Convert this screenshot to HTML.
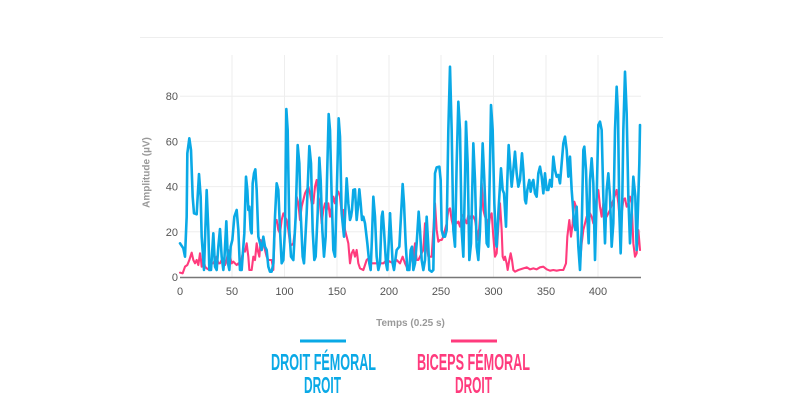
<!DOCTYPE html>
<html>
<head>
<meta charset="utf-8">
<style>
  html,body{margin:0;padding:0;background:#fff;}
  svg{display:block;}
</style>
</head>
<body>
<svg width="800" height="415" viewBox="0 0 800 415" xmlns="http://www.w3.org/2000/svg">
  <rect x="0" y="0" width="800" height="415" fill="#fff"/>
  <line x1="140" y1="37.5" x2="663" y2="37.5" stroke="#eeeeee" stroke-width="1"/>

  <g stroke="#eeeeee" stroke-width="1">
    <line x1="232" y1="55" x2="232" y2="277"/>
    <line x1="284.5" y1="55" x2="284.5" y2="277"/>
    <line x1="337" y1="55" x2="337" y2="277"/>
    <line x1="389" y1="55" x2="389" y2="277"/>
    <line x1="441" y1="55" x2="441" y2="277"/>
    <line x1="493.5" y1="55" x2="493.5" y2="277"/>
    <line x1="546" y1="55" x2="546" y2="277"/>
    <line x1="598" y1="55" x2="598" y2="277"/>
    <line x1="180" y1="231.8" x2="641" y2="231.8"/>
    <line x1="180" y1="186.6" x2="641" y2="186.6"/>
    <line x1="180" y1="141.4" x2="641" y2="141.4"/>
    <line x1="180" y1="96.2" x2="641" y2="96.2"/>
  </g>

  <g font-family="Liberation Sans, sans-serif" font-size="11" fill="#555" text-anchor="end">
    <text x="178" y="281">0</text>
    <text x="178" y="235.8">20</text>
    <text x="178" y="190.6">40</text>
    <text x="178" y="145.4">60</text>
    <text x="178" y="100.2">80</text>
  </g>
  <g font-family="Liberation Sans, sans-serif" font-size="11" fill="#555" text-anchor="middle">
    <text x="180" y="295">0</text>
    <text x="232" y="295">50</text>
    <text x="284.5" y="295">100</text>
    <text x="337" y="295">150</text>
    <text x="389" y="295">200</text>
    <text x="441" y="295">250</text>
    <text x="493.5" y="295">300</text>
    <text x="546" y="295">350</text>
    <text x="598" y="295">400</text>
  </g>

  <text x="0" y="0" transform="translate(149.5,172.5) rotate(-90)" font-family="Liberation Sans, sans-serif" font-size="10" font-weight="bold" fill="#999" text-anchor="middle">Amplitude (µV)</text>
  <text x="410.5" y="326" font-family="Liberation Sans, sans-serif" font-size="10" font-weight="bold" fill="#999" text-anchor="middle">Temps (0.25 s)</text>

  <g fill="none" stroke-linejoin="round" stroke-linecap="round">
    <g transform="translate(130 30) scale(0.333333)">
      <polyline vector-effect="non-scaling-stroke" stroke="#ff3b7d" stroke-width="2.1" points="150,728 158,730 165,710 172,705 178,690 185,668 190,690 195,700 200,690 205,705 210,670 213,690 215,710 220,680 225,710 230,715 235,718 240,710 245,700 250,700 255,690 260,680 265,700 270,700 275,690 280,700 285,705 290,690 295,660 300,680 305,700 310,695 315,700 320,705 325,700 330,710 340,660 345,665 350,640 355,680 358,720 365,720 370,680 375,690 380,640 383,660 388,680 392,630 395,650 400,640 405,660 410,680 415,690 420,690 425,690 430,720 435,580 440,570 445,600 450,610 455,570 460,550 465,560 470,570 475,600 480,640 485,645 490,640 495,600 500,500 505,520 510,570 515,530 520,510 525,490 530,480 535,470 540,490 545,520 550,520 555,470 560,450 565,500 570,520 575,580 580,540 585,520 590,540 595,520 600,560 605,530 610,500 615,520 620,490 625,485 630,500 635,550 640,540 645,600 650,620 655,640 660,700 665,670 670,660 675,680 680,660 685,700 690,715 700,720 710,690 715,685 720,700 730,700 740,700 750,700 760,700 770,690 780,695"/>
    </g>
    <g transform="translate(390 30) scale(0.333333)">
      <polyline vector-effect="non-scaling-stroke" stroke="#ff3b7d" stroke-width="2.1" points="0,695 10,700 20,690 30,700 38,680 45,700 52,715 58,710 63,680 70,690 75,640 80,690 85,690 90,680 95,670 100,660 105,580 110,640 115,680 125,680 130,600 135,520 140,600 145,635 150,630 155,630 160,620 165,600 170,580 175,540 180,535 185,570 190,590 195,570 200,580 205,575 210,590 215,560 220,555 225,570 230,580 235,555 240,565 245,555 250,560 255,570 260,600 265,630 270,560 275,460 280,540 285,560 290,570 295,600 300,560 305,550 310,620 315,680 320,670 325,590 330,520 335,600 338,680 342,690 345,680 350,700 353,720 358,690 362,670 366,690 370,720 375,725 385,720 400,715 410,712 420,718 430,715 440,718 450,712 460,710 470,718 480,722 490,720 500,722 510,720 520,720 528,700 532,620 538,570 543,620 548,580 553,515 558,530 562,580 566,660 570,700 575,640 580,600 585,580 590,560 595,590 600,550 605,560 610,580 615,540 620,500 625,480 630,530 635,560 640,520 645,540 650,560 660,540 670,510 680,480 685,520 690,580 695,550 700,510 705,505 710,530 715,520 720,500 725,520 730,640 735,680 740,670 745,600 750,660"/>
    </g>
    <g transform="translate(130 30) scale(0.333333)">
      <polyline vector-effect="non-scaling-stroke" stroke="#0aa9e6" stroke-width="2.6" points="150,640 160,655 165,680 170,560 172,370 178,325 183,360 188,500 192,550 200,553 203,500 207,432 212,500 215,620 222,720 226,600 230,480 235,600 238,720 243,720 250,610 255,710 260,720 265,650 270,597 275,680 280,720 283,690 289,574 294,700 298,720 302,650 307,630 313,560 320,540 325,600 330,720 335,720 340,650 343,610 348,440 352,480 355,540 358,530 362,600 365,610 368,460 372,430 376,418 380,480 385,620 390,640 395,660 400,620 405,650 410,660 415,710 420,725 425,725 430,700 435,560 440,460 445,480 450,600 455,700 460,690 465,600 469,237 473,300 478,600 483,680 490,690 497,560 503,345 508,400 512,550 518,680 522,700 530,550 538,348 543,400 548,600 553,690 557,680 563,550 568,383 572,450 577,600 582,680 587,620 591,450 596,252 600,300 605,500 610,660 615,680 620,500 626,265 630,320 635,550 642,620 645,560 650,445 655,520 660,570 663,560 666,540 670,480 675,478 680,570 684,530 688,478 692,520 696,570 700,560 705,580 712,640 718,700 722,720 726,620 730,500 735,560 740,680 745,720 750,700 755,560 758,545 762,600 768,700 772,720 776,640 780,550"/>
    </g>
    <g transform="translate(390 30) scale(0.333333)">
      <polyline vector-effect="non-scaling-stroke" stroke="#0aa9e6" stroke-width="2.6" points="0,550 8,700 12,720 20,660 28,650 35,520 38,462 42,520 47,640 52,720 58,720 62,660 66,650 70,720 75,700 80,640 86,545 90,600 95,690 100,720 105,690 110,560 115,650 118,720 125,725 130,720 135,430 140,412 148,410 152,450 155,600 160,620 165,620 170,600 175,300 180,110 185,300 190,600 195,650 200,400 205,215 210,300 215,600 220,680 225,450 228,275 233,400 238,690 243,640 250,340 255,450 260,650 265,690 270,600 278,340 283,450 290,640 295,650 300,400 303,225 308,300 313,520 318,640 320,650 325,550 333,415 338,480 342,490 348,590 352,450 356,345 360,400 365,470 370,420 375,365 380,430 385,470 390,450 396,370 400,420 405,510 408,520 412,480 418,450 422,485 426,460 430,450 435,490 440,500 445,430 450,410 455,440 460,490 465,430 470,480 475,480 480,450 485,470 490,380 495,420 500,440 505,435 510,460 515,400 520,340 525,320 530,360 535,440 540,380 545,480 548,520 552,580 556,600 560,530 565,650 570,720 575,600 580,360 583,350 588,420 592,560 596,640 600,450 605,385 610,460 615,690 620,500 625,285 630,275 635,300 640,500 645,640 650,480 655,430 660,500 665,650 670,580 675,300 680,170 684,250 688,550 692,670 697,500 700,300 705,125 710,250 715,500 720,640 725,550 730,440 736,500 740,660 745,500 748,400 750,285"/>
    </g>
  </g>

  <line x1="180" y1="277.5" x2="641" y2="277.5" stroke="#777" stroke-width="1.5"/>

  <rect x="300" y="339.5" width="46" height="3" fill="#0aa9e6"/>
  <rect x="451" y="339.5" width="46" height="3" fill="#ff3b7d"/>
  <g font-family="Liberation Sans, sans-serif" font-weight="bold" font-size="23.5">
    <text x="271" y="370" fill="#0aa9e6" textLength="105" lengthAdjust="spacingAndGlyphs">DROIT FÉMORAL</text>
    <text x="304" y="393" fill="#0aa9e6" textLength="37" lengthAdjust="spacingAndGlyphs">DROIT</text>
    <text x="417" y="370" fill="#ff3b7d" textLength="113" lengthAdjust="spacingAndGlyphs">BICEPS FÉMORAL</text>
    <text x="455" y="393" fill="#ff3b7d" textLength="37" lengthAdjust="spacingAndGlyphs">DROIT</text>
  </g>
</svg>
</body>
</html>
